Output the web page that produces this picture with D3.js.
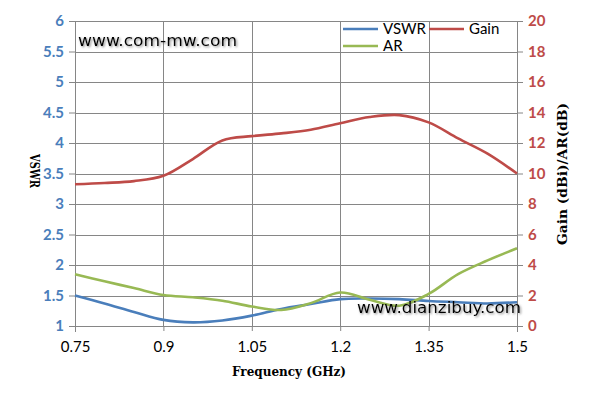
<!DOCTYPE html>
<html><head><meta charset="utf-8">
<script src="https://cdn.jsdelivr.net/npm/d3@7"></script>
<style>
html,body{margin:0;padding:0;background:#fff;}
svg{display:block;}
</style></head>
<body>
<svg id="chart" width="589" height="408"></svg>
<script>
// ---- data ----
const frequency = [0.75,0.8,0.85,0.9,0.95,1.0,1.05,1.1,1.15,1.2,1.25,1.3,1.35,1.4,1.45,1.5];
const vswr      = [1.50,1.37,1.23,1.10,1.06,1.09,1.17,1.28,1.36,1.44,1.45,1.44,1.41,1.39,1.37,1.39];
const gain      = [9.3,9.38,9.5,9.85,10.95,12.17,12.45,12.63,12.87,13.3,13.7,13.83,13.35,12.3,11.3,10.0];
const ar        = [3.4,2.93,2.49,2.03,1.88,1.66,1.28,1.05,1.5,2.2,1.72,1.33,2.1,3.4,4.3,5.1];
const xTicks    = [0.75,0.9,1.05,1.2,1.35,1.5];
const leftTicks = [1,1.5,2,2.5,3,3.5,4,4.5,5,5.5,6];
const rightTicks= [0,2,4,6,8,10,12,14,16,18,20];
const seriesNames = ["VSWR","Gain","AR"];
const xTitle = "Frequency (GHz)";
const leftTitle = "VSWR";
const rightTitle = "Gain (dBi)/AR(dB)";
const watermark1 = "www.com-mw.com";
const watermark2 = "www.dianzibuy.com";

// ---- chart ----
const svg = d3.select("#chart");
const colors = {VSWR:"#4a7ebb", Gain:"#be4b48", AR:"#98b954"};
const grid = "#868686";

const x = d3.scaleLinear().domain([0.75,1.5]).range([75,517]);
const yL = d3.scaleLinear().domain([1,6]).range([326,21]);
const yR = d3.scaleLinear().domain([0,20]).range([326,21]);

const defs = svg.append("defs");
const f = defs.append("filter").attr("id","shadow").attr("x","-10%").attr("y","-30%").attr("width","120%").attr("height","160%");
f.append("feDropShadow").attr("dx",1.2).attr("dy",1.2).attr("stdDeviation",1).attr("flood-color","#555").attr("flood-opacity",0.7);

// gridlines
svg.append("g").selectAll("line").data(leftTicks).join("line")
  .attr("x1",x.range()[0]).attr("x2",x.range()[1])
  .attr("y1",d=>Math.round(yL(d))+0.5).attr("y2",d=>Math.round(yL(d))+0.5)
  .attr("stroke",grid).attr("stroke-width",1);
svg.append("g").selectAll("line").data(xTicks).join("line")
  .attr("x1",d=>Math.round(x(d))+0.5).attr("x2",d=>Math.round(x(d))+0.5)
  .attr("y1",yL.range()[1]).attr("y2",yL.range()[0])
  .attr("stroke",grid).attr("stroke-width",1);

// axes
const labelFont = "Lato, 'Open Sans', sans-serif";
const gl = svg.append("g").attr("transform",`translate(${x.range()[0]},0)`)
  .call(d3.axisLeft(yL).tickValues(leftTicks).tickSize(6).tickPadding(5).tickFormat(d=>String(d)));
gl.selectAll("text").attr("fill",colors.VSWR).style("font","bold 15px "+labelFont);
const gr = svg.append("g").attr("transform",`translate(${x.range()[1]},0)`)
  .call(d3.axisRight(yR).tickValues(rightTicks).tickSize(6).tickPadding(5).tickFormat(d=>String(d)));
gr.selectAll("text").attr("fill",colors.Gain).style("font","bold 15px "+labelFont);
const gb = svg.append("g").attr("transform",`translate(0,${yL.range()[0]})`)
  .call(d3.axisBottom(x).tickValues(xTicks).tickSize(5).tickPadding(10).tickFormat(d=>String(d)));
gb.selectAll("text").attr("fill","#000").style("font","15px "+labelFont);
[gl,gr,gb].forEach(g=>{g.selectAll("line").attr("stroke",grid);g.select(".domain").attr("stroke",grid).attr("d",null);});
gl.append("line").attr("x1",0.5).attr("x2",0.5).attr("y1",yL.range()[1]).attr("y2",yL.range()[0]+6).attr("stroke",grid);
gr.append("line").attr("x1",0.5).attr("x2",0.5).attr("y1",yL.range()[1]).attr("y2",yL.range()[0]+6).attr("stroke",grid);

// lines
const curve = d3.curveCatmullRom.alpha(0.5);
const lineL = d3.line().x(d=>x(d[0])).y(d=>yL(d[1])).curve(curve);
const lineR = d3.line().x(d=>x(d[0])).y(d=>yR(d[1])).curve(curve);
svg.append("path").attr("d",lineL(d3.zip(frequency,vswr))).attr("fill","none").attr("stroke",colors.VSWR).attr("stroke-width",2.6);
svg.append("path").attr("d",lineR(d3.zip(frequency,gain))).attr("fill","none").attr("stroke",colors.Gain).attr("stroke-width",2.6);
svg.append("path").attr("d",lineR(d3.zip(frequency,ar))).attr("fill","none").attr("stroke",colors.AR).attr("stroke-width",2.6);

// legend
const leg = [{n:seriesNames[0],lx:343,ly:29},{n:seriesNames[1],lx:429,ly:29},{n:seriesNames[2],lx:343,ly:46}];
const lg = svg.append("g");
leg.forEach(l=>{
  lg.append("line").attr("x1",l.lx).attr("x2",l.lx+35).attr("y1",l.ly).attr("y2",l.ly).attr("stroke",colors[l.n]).attr("stroke-width",2.6);
  lg.append("text").attr("x",l.lx+40).attr("y",l.ly+5).text(l.n).style("font","15px "+labelFont).attr("fill","#000");
});

// titles
const titleFont = "'DejaVu Serif', 'Liberation Serif', serif";
svg.append("text").attr("x",289).attr("y",376).attr("text-anchor","middle")
  .attr("textLength",114).attr("lengthAdjust","spacingAndGlyphs")
  .style("font","bold 13px "+titleFont).text(xTitle);
svg.append("text").attr("transform","translate(30,171) rotate(90)").attr("text-anchor","middle")
  .attr("textLength",34).attr("lengthAdjust","spacingAndGlyphs")
  .style("font","bold 13px "+titleFont).text(leftTitle);
svg.append("text").attr("transform","translate(567,174) rotate(-90)").attr("text-anchor","middle")
  .attr("textLength",142).attr("lengthAdjust","spacingAndGlyphs")
  .style("font","bold 13px "+titleFont).text(rightTitle);

// watermarks
svg.append("text").attr("x",78).attr("y",46).attr("textLength",159).attr("lengthAdjust","spacingAndGlyphs")
  .style("font","16px 'DejaVu Sans', sans-serif").attr("fill","#000").attr("filter","url(#shadow)").text(watermark1);
svg.append("text").attr("x",357).attr("y",313).attr("textLength",164).attr("lengthAdjust","spacingAndGlyphs")
  .style("font","16px 'DejaVu Sans', sans-serif").attr("fill","#000").attr("filter","url(#shadow)").text(watermark2);
</script>
</body></html>
